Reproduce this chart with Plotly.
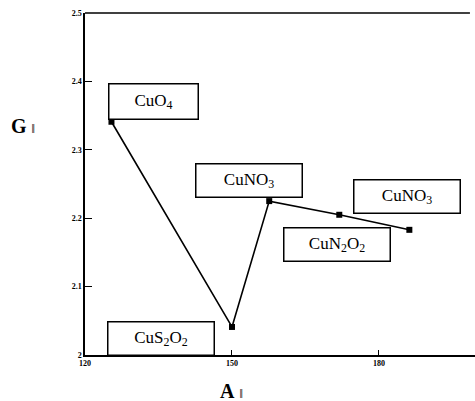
import plotly.graph_objects as go

# Data
a_par = [125.4, 150.0, 157.6, 171.9, 186.2]
g_par = [2.341, 2.041, 2.225, 2.205, 2.183]

labels = ["CuO<sub>4</sub>", "CuNO<sub>3</sub>", "CuNO<sub>3</sub>", "CuN<sub>2</sub>O<sub>2</sub>", "CuS<sub>2</sub>O<sub>2</sub>"]
label_x = [133.9, 153.5, 185.7, 171.4, 135.6]
label_y = [2.370, 2.2545, 2.2314, 2.162, 2.0235]
label_w = [88, 105, 105, 105, 105]
label_h = [34, 32, 32, 32, 32]

x_ticks = [120, 150, 180]
y_ticks = [2, 2.1, 2.2, 2.3, 2.4, 2.5]
y_tick_text = ["2", "2.1", "2.2", "2.3", "2.4", "2.5"]

serif = "Liberation Serif, DejaVu Serif, serif"

fig = go.Figure()
fig.add_trace(go.Scatter(
    x=a_par, y=g_par, mode="lines+markers",
    line=dict(color="black", width=1.6),
    marker=dict(symbol="square", size=6, color="black"),
    showlegend=False, hoverinfo="skip",
))

for t, x, y, w, h in zip(labels, label_x, label_y, label_w, label_h):
    fig.add_annotation(
        x=x, y=y, xref="x", yref="y", text=t, showarrow=False,
        xanchor="center", yanchor="middle",
        width=w, height=h, borderpad=0,
        bordercolor="black", borderwidth=1.5, bgcolor="white",
        font=dict(family=serif, size=17, color="black"),
    )

# thick bottom edge of the CuS2O2 box
fig.add_shape(type="line", xref="x", yref="y", x0=125.0, x1=146.3, y0=2.0, y1=2.0,
              line=dict(color="black", width=3.5))
# top frame line
fig.add_shape(type="line", xref="paper", yref="paper", x0=0, x1=0.987, y0=1, y1=1,
              line=dict(color="black", width=1.5))

# axis titles
fig.add_annotation(xref="paper", yref="paper", x=-0.16, y=0.67,
                   text="<b>G</b> <span style='font-size:12px'>‖</span>",
                   showarrow=False, xanchor="center", yanchor="middle",
                   font=dict(family=serif, size=20, color="black"))
fig.add_annotation(xref="paper", yref="paper", x=0.375, y=-0.066,
                   text="<b>A</b> <span style='font-size:12px'>‖</span>",
                   showarrow=False, xanchor="center", yanchor="top",
                   font=dict(family=serif, size=20, color="black"))

fig.update_xaxes(
    range=[120, 199.6], tickvals=x_ticks, ticktext=["<b>%d</b>" % v for v in x_ticks],
    showline=True, linecolor="black", linewidth=1.5, ticks="inside", ticklen=5,
    tickcolor="black", tickwidth=1.2, showgrid=False, zeroline=False,
    tickfont=dict(family=serif, size=8, color="black"),
)
fig.update_yaxes(
    range=[2, 2.5], tickvals=y_ticks, ticktext=["<b>%s</b>" % s for s in y_tick_text],
    showline=True, linecolor="black", linewidth=1.5, ticks="inside", ticklen=7,
    tickcolor="black", tickwidth=1.2, showgrid=False, zeroline=False,
    tickfont=dict(family=serif, size=8, color="black"),
)

fig.update_layout(
    width=475, height=401,
    margin=dict(l=85, r=0, t=13, b=46),
    paper_bgcolor="white", plot_bgcolor="white",
    showlegend=False,
)

fig.write_html("out.html")
